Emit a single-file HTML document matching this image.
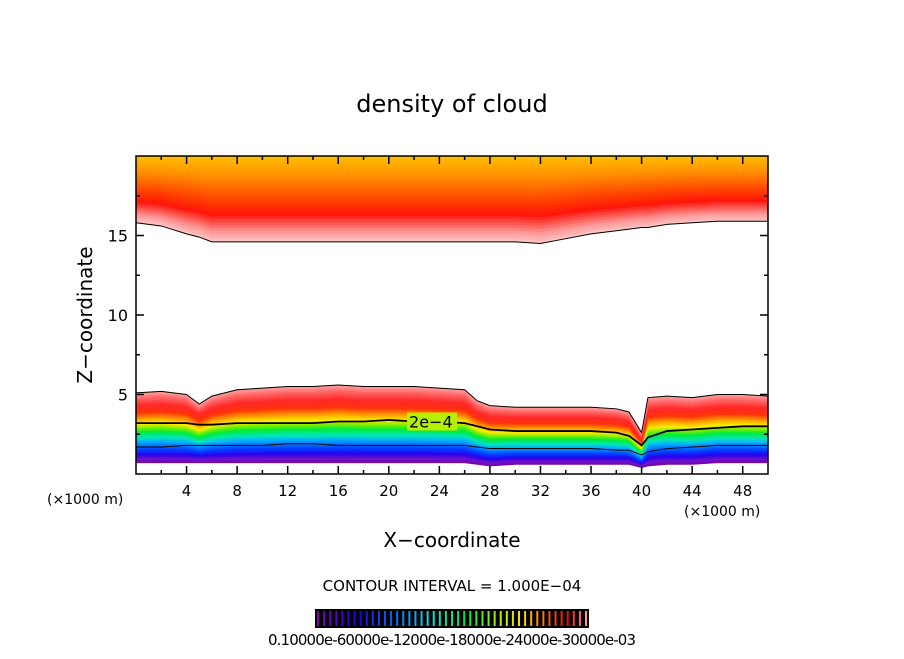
<!DOCTYPE html>
<html><head><meta charset="utf-8"><style>
body{margin:0;background:#fff;}
svg text{font-family:"DejaVu Sans","Liberation Sans",sans-serif;fill:#000;}
</style></head><body>
<svg id="chart" width="904" height="654" viewBox="0 0 904 654">
<text x="452" y="112" font-size="24" text-anchor="middle">density of cloud</text>
<g id="plot"></g>
<g id="axes"></g>
<text x="452" y="547" font-size="20" text-anchor="middle">X−coordinate</text>
<text transform="translate(92,315) rotate(-90)" font-size="20" text-anchor="middle">Z−coordinate</text>
<text x="47" y="504" font-size="14">(×1000 m)</text>
<text x="684" y="516" font-size="14">(×1000 m)</text>
<text x="452" y="591" font-size="15" text-anchor="middle">CONTOUR INTERVAL = 1.000E−04</text>
<g id="cbar"></g>
<text x="268" y="645" font-size="15" textLength="368">0.10000e-60000e-12000e-18000e-24000e-30000e-03</text>
</svg>
<script>
const xs      = [0,2,4,5,6,8,10,12,14,16,18,20,22,24,26,27,28,30,32,34,36,38,39,40,40.5,42,44,46,48,50];
const lowTop  = [5.1,5.2,5.0,4.4,4.9,5.3,5.4,5.5,5.5,5.6,5.5,5.5,5.5,5.4,5.3,4.6,4.3,4.2,4.2,4.2,4.2,4.1,3.9,2.6,4.8,4.9,4.8,5.0,5.0,4.9];
const lowBot  = [0.7,0.7,0.7,0.7,0.7,0.7,0.7,0.7,0.7,0.7,0.7,0.7,0.7,0.7,0.7,0.6,0.5,0.6,0.6,0.6,0.6,0.6,0.6,0.4,0.5,0.6,0.6,0.7,0.7,0.7];
const contour2 = [3.2,3.2,3.2,3.1,3.1,3.2,3.2,3.2,3.2,3.3,3.3,3.4,3.3,3.3,3.2,3.0,2.8,2.7,2.7,2.7,2.7,2.6,2.4,1.8,2.3,2.7,2.8,2.9,3.0,3.0];
const contour1 = [1.7,1.7,1.8,1.8,1.8,1.8,1.8,1.9,1.9,1.8,1.8,1.8,1.8,1.8,1.8,1.7,1.6,1.6,1.6,1.6,1.6,1.5,1.5,1.2,1.4,1.6,1.7,1.8,1.8,1.8];
const upBot   = [15.8,15.6,15.1,14.9,14.6,14.6,14.6,14.6,14.6,14.6,14.6,14.6,14.6,14.6,14.6,14.6,14.6,14.6,14.5,14.8,15.1,15.3,15.4,15.5,15.5,15.7,15.8,15.9,15.9,15.9];
const xTicks = [4,8,12,16,20,24,28,32,36,40,44,48];
const zTicks = [5,10,15];
const cbarLevels = 45;

const NS="http://www.w3.org/2000/svg";
const X0=136,X1=768,Y0=156,Y1=474;
const px=x=>X0+x/50*(X1-X0);
const pz=z=>Y1-z/20*(Y1-Y0);
function mk(tag,attrs,parent){const e=document.createElementNS(NS,tag);for(const k in attrs)e.setAttribute(k,attrs[k]);parent.appendChild(e);return e;}
const plot=document.getElementById('plot'),axes=document.getElementById('axes');
function lerpC(stops,t){for(let i=1;i<stops.length;i++){if(t<=stops[i][0]){const a=stops[i-1],b=stops[i];const f=(t-a[0])/(b[0]-a[0]);return 'rgb('+[1,2,3].map(j=>Math.round(a[j]+(b[j]-a[j])*f)).join(',')+')';}}const l=stops[stops.length-1];return 'rgb('+l[1]+','+l[2]+','+l[3]+')';}
function bands(bot,top,stops,n,name){
 for(let k=0;k<n;k++){
  const f0=k/n,f1=(k+1)/n;
  let pts=[];
  for(let i=0;i<xs.length;i++)pts.push(px(xs[i])+','+pz(bot(i)+(top(i)-bot(i))*f0));
  for(let i=xs.length-1;i>=0;i--)pts.push(px(xs[i])+','+pz(bot(i)+(top(i)-bot(i))*f1));
  const c=lerpC(stops,(k+0.5)/n);
  const p=mk('polygon',{points:pts.join(' '),fill:c,stroke:c,'stroke-width':0.6},plot);
  
  
 }
}
// upper cloud
bands(i=>upBot[i],i=>20,[[0,255,200,200],[0.12,255,150,150],[0.32,255,20,10],[0.5,255,70,0],[0.75,255,140,0],[1,255,190,0]],30,'upper-cloud-band');
// lower cloud
bands(i=>lowBot[i],i=>lowTop[i],[[0,120,0,170],[0.06,110,20,200],[0.12,40,0,240],[0.2,0,70,255],[0.3,0,170,255],[0.36,0,230,190],[0.44,0,235,60],[0.5,120,240,0],[0.56,255,235,0],[0.63,255,160,0],[0.72,255,50,10],[0.82,255,40,40],[0.92,255,100,100],[1,255,160,160]],44,'lower-cloud-band');
function line(arr,name,w){const l=mk('polyline',{points:xs.map((x,i)=>px(x)+','+pz(arr[i])).join(' '),fill:'none',stroke:'#000','stroke-width':w},plot);
 
 }
line(contour2,'contour-2e-4',1.8);
line(contour1,'contour-1e-4',1);
line(lowTop,'lower-cloud-edge',1);
line(upBot,'upper-cloud-edge',1);
const lbg=mk('rect',{x:px(21.6)-2,y:pz(3.3)-9,width:50,height:18,fill:'rgb(180,240,0)'},plot);


const lb=mk('text',{x:px(21.6),y:pz(3.3)+6,'font-size':16},plot);lb.textContent='2e−4';


// frame
const fr=mk('rect',{x:X0,y:Y0,width:X1-X0,height:Y1-Y0,fill:'none',stroke:'#000','stroke-width':1.5},axes);


for(let x=2;x<50;x+=2){const L=(x%4===0)?8:4;
 mk('line',{x1:px(x),x2:px(x),y1:Y1,y2:Y1-L,stroke:'#000','stroke-width':1.5},axes);
 mk('line',{x1:px(x),x2:px(x),y1:Y0,y2:Y0+L,stroke:'#000','stroke-width':1.5},axes);}
for(let z=2.5;z<20;z+=2.5){const L=(z%5===0)?8:4;
 mk('line',{x1:X0,x2:X0+L,y1:pz(z),y2:pz(z),stroke:'#000','stroke-width':1.5},axes);
 mk('line',{x1:X1,x2:X1-L,y1:pz(z),y2:pz(z),stroke:'#000','stroke-width':1.5},axes);}
xTicks.forEach(x=>{const t=mk('text',{x:px(x),y:496,'font-size':15,'text-anchor':'middle'},axes);t.textContent=x;
 
 });
zTicks.forEach(z=>{const t=mk('text',{x:128,y:pz(z)+6,'font-size':16,'text-anchor':'end'},axes);t.textContent=z;
 
 });
// colorbar
const cb=document.getElementById('cbar');
mk('rect',{x:315,y:609,width:274,height:19,fill:'#000'},cb);
const cs=[[0,130,0,180],[0.15,30,0,230],[0.3,0,120,255],[0.42,0,230,230],[0.55,0,230,60],[0.68,180,240,0],[0.76,255,220,0],[0.85,255,100,0],[0.93,255,0,0],[1,255,150,150]];
for(let k=0;k<cbarLevels;k++){const x=318+k*268/(cbarLevels-1);
 const l=mk('line',{x1:x,x2:x,y1:611,y2:626,stroke:lerpC(cs,k/(cbarLevels-1)),'stroke-width':2},cb);
 
 }
</script>
</body></html>
